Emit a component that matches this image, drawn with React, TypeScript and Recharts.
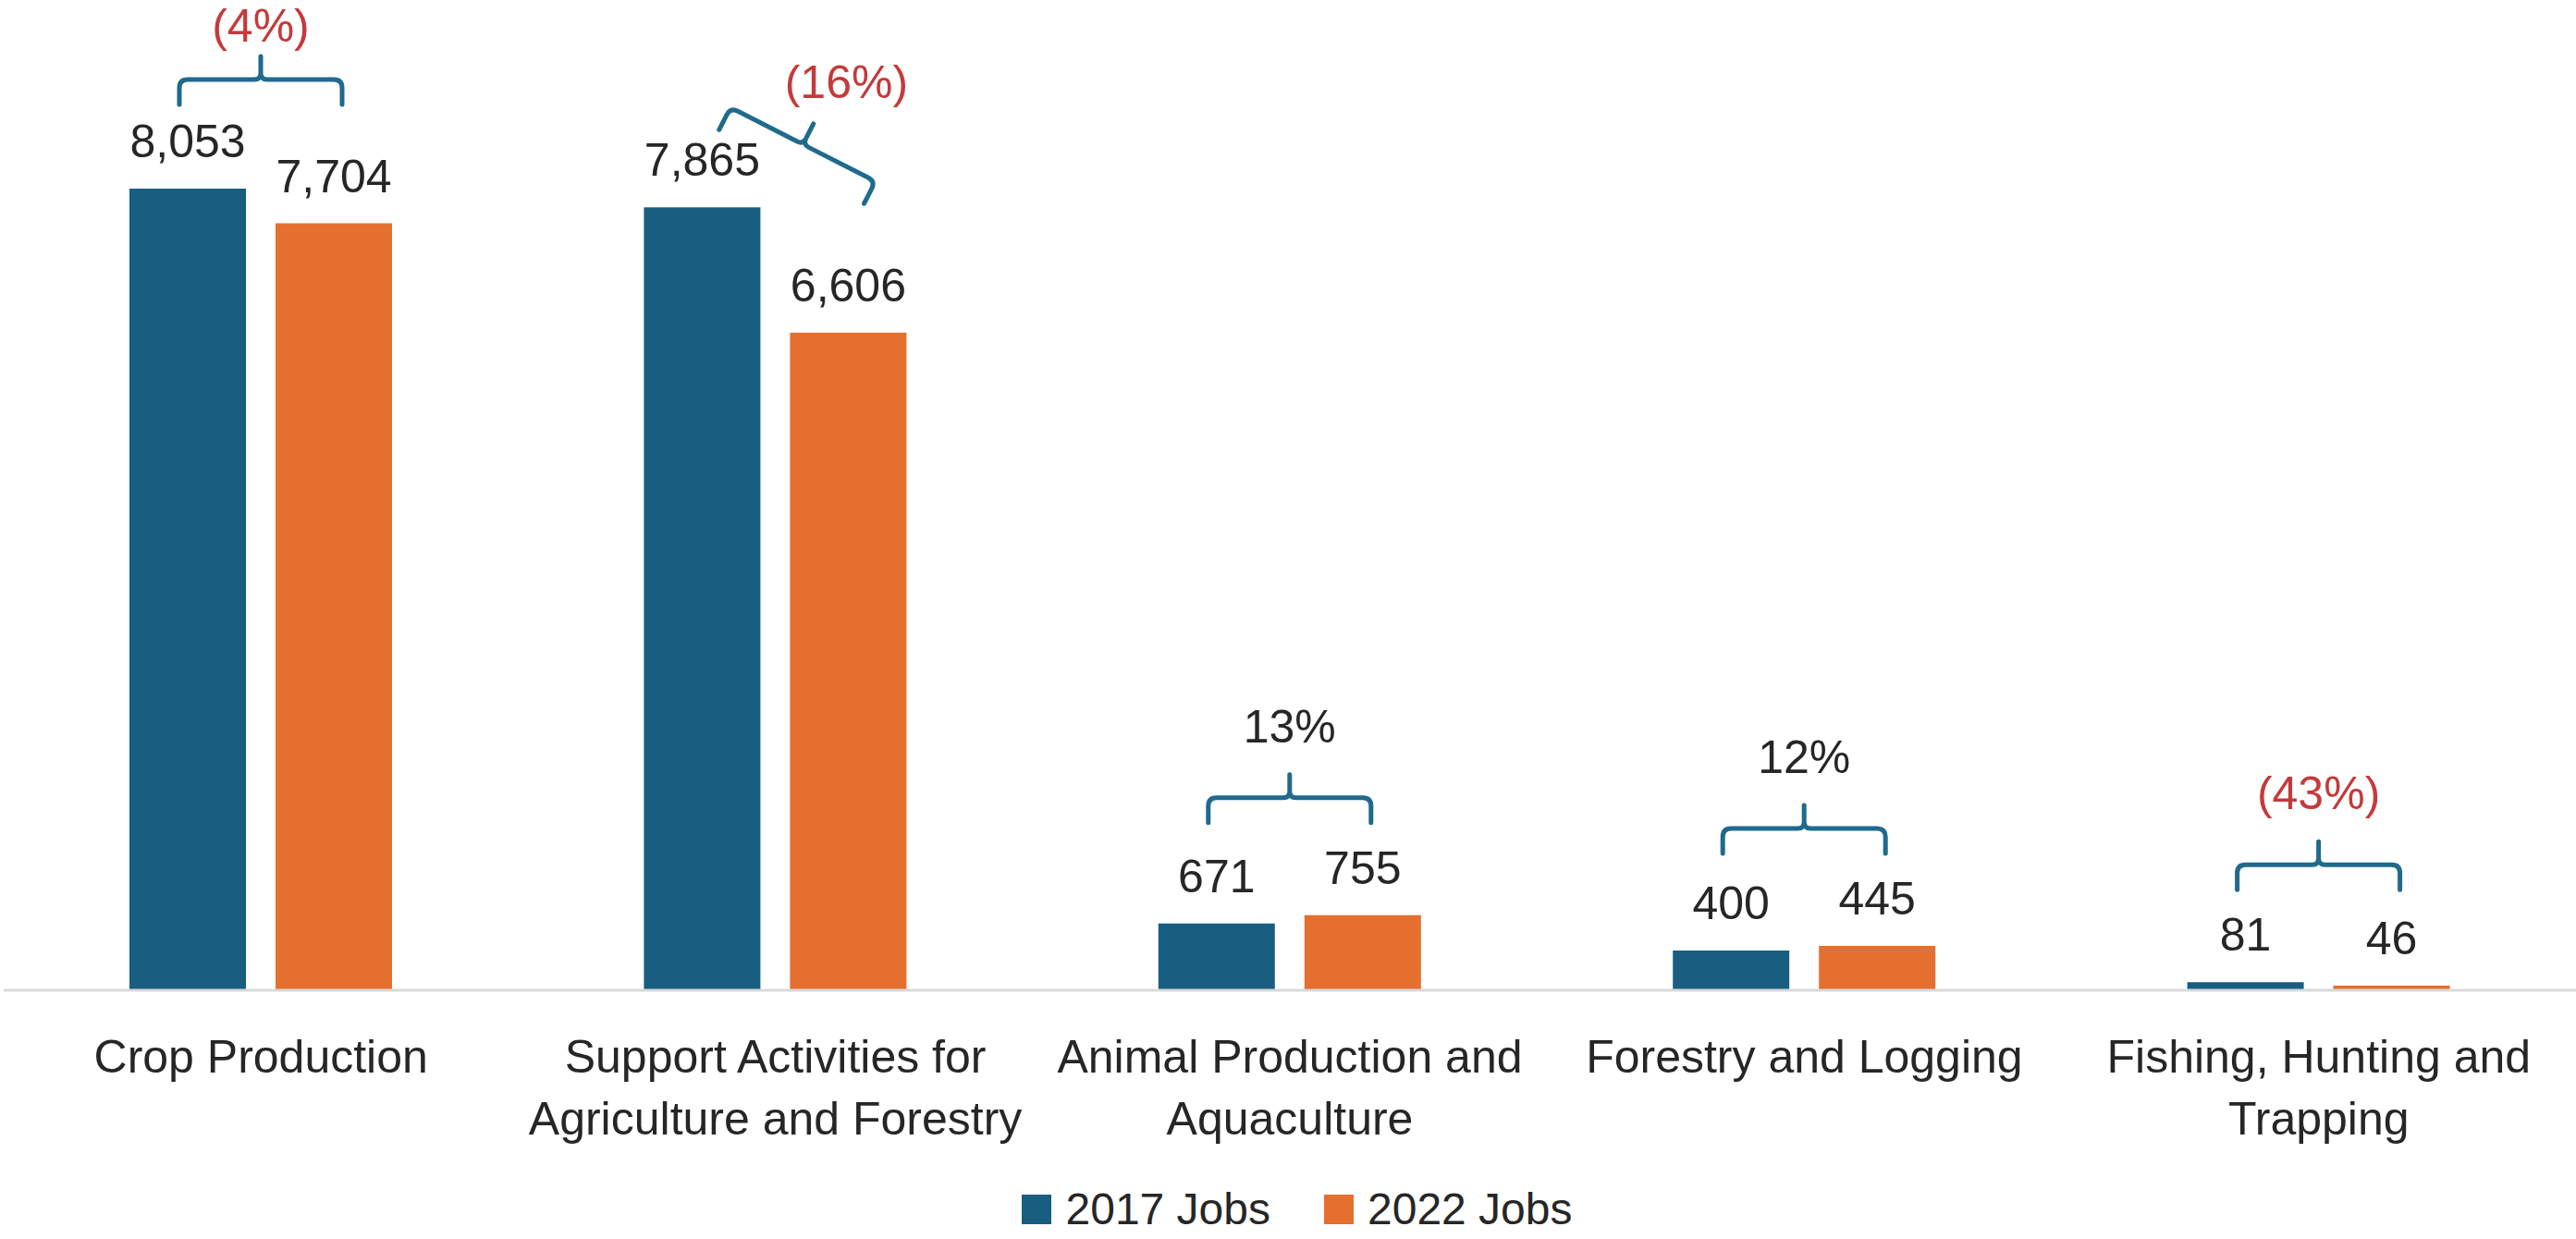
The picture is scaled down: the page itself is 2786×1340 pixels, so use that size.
import { Bar, BarChart, LabelList, Legend, XAxis, YAxis } from "recharts";

const CATEGORIES = [
  "Crop Production",
  "Support Activities for\nAgriculture and Forestry",
  "Animal Production and\nAquaculture",
  "Forestry and Logging",
  "Fishing, Hunting and\nTrapping",
];
const JOBS_2017 = [8053, 7865, 671, 400, 81];
const JOBS_2022 = [7704, 6606, 755, 445, 46];
const CHANGE_LABELS = ["(4%)", "(16%)", "13%", "12%", "(43%)"];
const SERIES = ["2017 Jobs", "2022 Jobs"];

const COLORS = ["#185E81", "#E56F2E"];
const BRACE_COLOR = "#1F6A8D";
const RED = "#C53A3A";
const TEXT = "#262626";
const FONT = "'Liberation Sans', Arial, sans-serif";
const BAR_GAP = 32;

const data = CATEGORIES.map((name, i) => ({ name, y2017: JOBS_2017[i], y2022: JOBS_2022[i] }));

// brace drawn around (0,0): legs hang down, stem points up
const HALF = 88, LEG = 27, STEM = 25, R = 9;
const bracePath =
  `M ${-HALF} ${LEG} L ${-HALF} ${R} Q ${-HALF} 0 ${-HALF + R} 0 L -7 0 Q 0 0 0 -7 L 0 ${-STEM} ` +
  `M 0 -7 Q 0 0 7 0 L ${HALF - R} 0 Q ${HALF} 0 ${HALF} ${R} L ${HALF} ${LEG}`;

const ChangeBracket = (props: any) => {
  const vb = props.viewBox ?? props;
  const { x, y, width, height } = vb;
  const i = props.index ?? JOBS_2017.indexOf(Number(props.value));
  if (i < 0 || x == null) return null;
  const base = y + height;
  const perUnit = height / JOBS_2017[i];
  const top2022 = base - JOBS_2022[i] * perUnit;
  const c1 = x + width / 2;
  const c2 = c1 + width + BAR_GAP;
  const mid = (c1 + c2) / 2;
  const label = CHANGE_LABELS[i];
  const color = label.startsWith("(") ? RED : TEXT;

  if (i === 1) {
    // the support-activities brace is tilted in the original
    const mx = mid + 30, my = y - 68;
    return <g>
      <path d={bracePath} transform={`translate(${mx},${my}) rotate(27)`} fill="none"
        stroke={BRACE_COLOR} strokeWidth={5} strokeLinecap="round" strokeLinejoin="round" />
      <text x={mx + 47} y={my - 50} textAnchor="middle" fontSize={50} fill={color}>{label}</text>
    </g>;
  }

  const legBottom = Math.max(Math.min(y, top2022) - 100, 113);
  const hy = legBottom - LEG;
  const textY = Math.max(hy - STEM - 35, 45);
  return <g>
    <path d={bracePath} transform={`translate(${mid},${hy})`} fill="none"
      stroke={BRACE_COLOR} strokeWidth={5} strokeLinecap="round" strokeLinejoin="round" />
    <text x={mid} y={textY} textAnchor="middle" fontSize={50} fill={color}>{label}</text>
  </g>;
};

const CategoryTick = ({ x, y, payload }: any) => {
  const lines = String(payload.value).split("\n");
  return <g>
    {lines.map((line, i) => (
      <text key={i} x={x} y={y + 89 + i * 67} textAnchor="middle" fontSize={50} fill={TEXT}>{line}</text>
    ))}
  </g>;
};

const LegendContent = () => (
  <div style={{
    display: "flex", justifyContent: "center", alignItems: "baseline", height: 60,
    paddingTop: 8, paddingLeft: 16, boxSizing: "border-box",
    fontSize: 48, lineHeight: "40px", color: TEXT, fontFamily: FONT,
  }}>
    {SERIES.map((s, i) => (
      <div key={s} style={{ display: "flex", alignItems: "baseline", marginLeft: i ? 58 : 0 }}>
        <span style={{ display: "inline-block", width: 32, height: 32, background: COLORS[i], marginRight: 15 }} />
        <span>{s}</span>
      </div>
    ))}
  </div>
);

const fmt = (v: any) => Number(v).toLocaleString("en-US");

export default function App() {
  return (
    <div style={{ position: "absolute", left: 0, top: 0, width: 2786, height: 1340, overflow: "hidden", background: "#fff", fontFamily: FONT }}>
      <BarChart width={2786} height={1340} data={data}
        margin={{ top: 102, right: 0, bottom: 0, left: 4 }}
        barCategoryGap={136} barGap={BAR_GAP}>
        <XAxis dataKey="name" interval={0} tickLine={false} tickSize={0} tickMargin={0} height={209}
          axisLine={{ stroke: "#D9D9D9", strokeWidth: 3 }} tick={<CategoryTick />} />
        <YAxis hide domain={[0, 9000]} />
        <Legend verticalAlign="bottom" content={<LegendContent />} />
        <Bar dataKey="y2017" name={SERIES[0]} fill={COLORS[0]} isAnimationActive={false}>
          <LabelList dataKey="y2017" position="top" offset={34} fontSize={50} fill={TEXT} formatter={fmt} />
          <LabelList dataKey="y2017" content={(p: any) => <ChangeBracket {...p} />} />
        </Bar>
        <Bar dataKey="y2022" name={SERIES[1]} fill={COLORS[1]} isAnimationActive={false}>
          <LabelList dataKey="y2022" position="top" offset={34} fontSize={50} fill={TEXT} formatter={fmt} />
        </Bar>
      </BarChart>
    </div>
  );
}
